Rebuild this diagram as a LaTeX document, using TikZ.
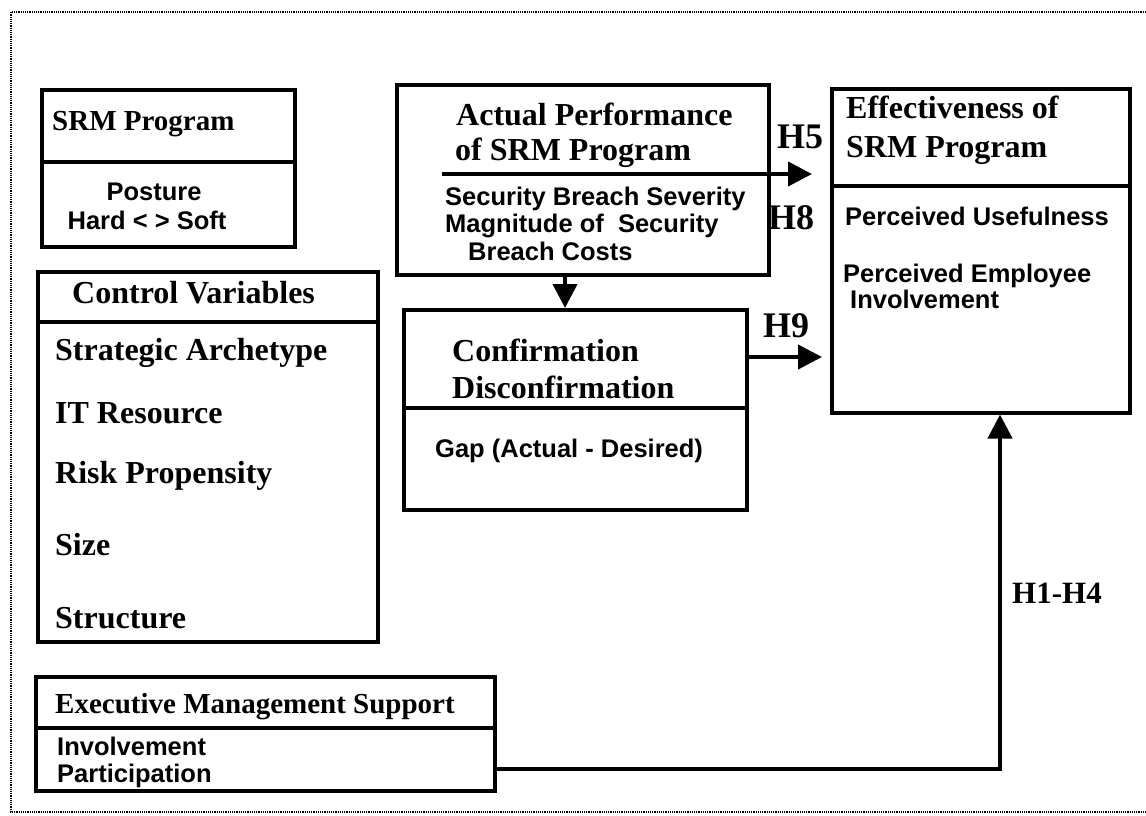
\documentclass[tikz,border=0pt]{standalone}
\usepackage{fontspec}
\setmainfont{Liberation Serif}
\newfontfamily\itemsans{Liberation Sans}
\usetikzlibrary{arrows.meta}
\begin{document}
\begin{tikzpicture}[x=1pt,y=-1pt,
  box/.style={draw, line width=3.5pt, rectangle, inner sep=0pt, anchor=north west},
  rule/.style={line width=3.5pt},
  arr/.style={line width=4pt, -{Triangle[length=24pt,width=24pt]}},
  txt/.style={anchor=base west, inner sep=0pt},
  head/.style={txt, font=\fontsize{32}{32}\selectfont\bfseries},
  smallhead/.style={txt, font=\fontsize{29}{29}\selectfont\bfseries},
  item/.style={txt, font=\itemsans\fontsize{25.5}{25.5}\selectfont\bfseries},
  hyp/.style={txt, font=\fontsize{36}{36}\selectfont\bfseries},
  frame/.style={densely dotted, line width=1.2pt}
]
\useasboundingbox (0,0) rectangle (1146,816);

% dotted outer frame
\draw[frame] (1146,12) -- (11,12) -- (11,812) -- (1146,812);

% boxes
\node[box, minimum width=253pt, minimum height=157pt] (srm)  at (40,88)  {};
\node[box, minimum width=372pt, minimum height=190pt] (act)  at (395,83) {};
\node[box, minimum width=298pt, minimum height=324pt] (eff)  at (830,87) {};
\node[box, minimum width=340pt, minimum height=370pt] (ctrl) at (36,270) {};
\node[box, minimum width=343pt, minimum height=200pt] (conf) at (402,308) {};
\node[box, minimum width=459pt, minimum height=114pt] (exec) at (34,675) {};

% dividers between heading and items
\draw[rule] ([yshift=-74pt]srm.north west)  -- ([yshift=-74pt]srm.north east);
\draw[rule] ([yshift=-99pt]eff.north west)  -- ([yshift=-99pt]eff.north east);
\draw[rule] ([yshift=-52pt]ctrl.north west) -- ([yshift=-52pt]ctrl.north east);
\draw[rule] ([yshift=-100pt]conf.north west) -- ([yshift=-100pt]conf.north east);
\draw[rule] ([yshift=-53pt]exec.north west) -- ([yshift=-53pt]exec.north east);

% SRM Program
\node[smallhead] (srmT) at (52,130) {SRM Program};
\node[item, anchor=base] (srmA) at (154,200) {Posture};
\node[item, anchor=base] (srmB) at (147,229) {Hard < > Soft};

% Actual Performance
\node[head] (actT1) at (456,125) {Actual Performance};
\node[head] (actT2) at (455,160) {of SRM Program};
\node[item] (actA) at (445,205) {Security Breach Severity};
\node[item] (actB) at (445,232) {Magnitude of\ \ Security};
\node[item] (actC) at (468,260) {Breach Costs};

% Effectiveness
\node[head] (effT1) at (846,118) {Effectiveness of};
\node[head] (effT2) at (846,157) {SRM Program};
\node[item] (effA) at (845,225) {Perceived Usefulness};
\node[item] (effB) at (843,282) {Perceived Employee};
\node[item] (effC) at (850,308) {Involvement};

% Control Variables
\node[head] (ctrlT) at (72,303) {Control Variables};
\node[head] (ctrlA) at (55,360) {Strategic Archetype};
\node[head] (ctrlB) at (55,423) {IT Resource};
\node[head] (ctrlC) at (55,483) {Risk Propensity};
\node[head] (ctrlD) at (55,555) {Size};
\node[head] (ctrlE) at (55,628) {Structure};

% Confirmation
\node[head] (confT1) at (452,361) {Confirmation};
\node[head] (confT2) at (452,398) {Disconfirmation};
\node[item] (confA) at (435,457) {Gap (Actual - Desired)};

% Executive Management Support
\node[smallhead] (execT) at (55,713) {Executive Management Support};
\node[item] (execA) at (57,755) {Involvement};
\node[item] (execB) at (57,782) {Participation};

% connectors
\coordinate (dn) at (565,0);
\draw[arr] (act.south -| dn) -- (conf.north -| dn);

\coordinate (hfive) at ([xshift=47pt,yshift=-91pt]act.north west);
\draw[arr, shorten >=18pt] (hfive) -- (hfive -| eff.west);

\coordinate (hnine) at ([yshift=-49pt]conf.north east);
\draw[arr, shorten >=8pt] (hnine) -- (hnine -| eff.west);

\coordinate (exout) at ([yshift=24pt]exec.south east);
\coordinate (up) at (1000,0);
\draw[arr] (exout) -| (eff.south -| up);

% hypothesis labels
\node[hyp] (h5) at (777,148) {H5};
\node[hyp] (h8) at (768,229) {H8};
\node[hyp] (h9) at (763,337) {H9};
\node[txt, font=\fontsize{31}{31}\selectfont\bfseries] (h14) at (1012,603) {H1-H4};
\end{tikzpicture}
\end{document}
